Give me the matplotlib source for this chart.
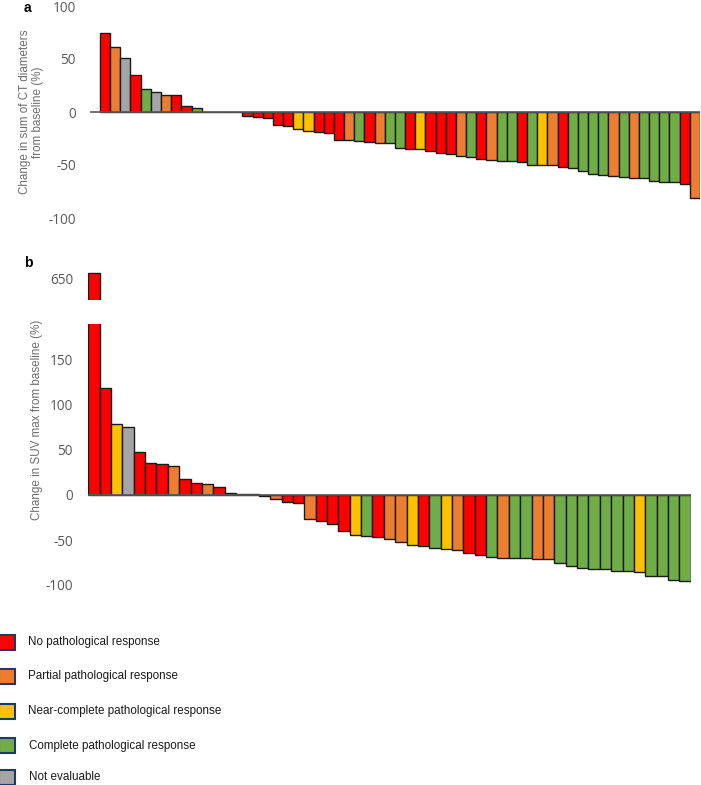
import matplotlib
matplotlib.use("Agg")
from matplotlib import pyplot as plt
from matplotlib.patches import Rectangle

plt.rcParams["axes.unicode_minus"] = False

# colours of the response classes
C = {"R": "#FF0000", "O": "#ED7D31", "Y": "#FFC000", "G": "#70AD47", "N": "#A5A5A5"}

legend_keys = ["R", "O", "Y", "G", "N"]
legend_labels = ["No pathological response",
                 "Partial pathological response",
                 "Near-complete pathological response",
                 "Complete pathological response",
                 "Not evaluable"]

# panel a: change in sum of CT diameters (%)
ct_values = [75, 61, 51, 35, 22, 18.5, 16, 15.7, 5.7, 3.8,
             0, 0, 0, 0,
             -3.5, -4.7, -6.0, -12.3, -13.2, -16.0, -18.0, -19.0, -20.0, -26.0,
             -26.8, -27.5, -28.0, -29.2, -29.6, -34.3, -35.0, -35.2, -36.5, -38.4,
             -40.0, -41.8, -42.8, -44.0, -45.3, -46.2, -46.5, -46.9, -50.0, -50.0,
             -50.0, -52.2, -53.2, -56.0, -58.8, -59.7, -60.0, -61.0, -62.3, -62.6,
             -64.8, -66.4, -66.5, -67.6, -81.0]
ct_resp = list("RONRGNORRG") + list("RRRR") + list(
    "RRRRRYYRRROGROGGRYRRROGROGGRGYORGGGGOGOGGGGRO")

# panel b: change in SUV max (%)
suv_values = [656, 119.3, 78.5, 75.9, 47.4, 35.6, 34.4, 32.6, 17.4, 13.3,
              12.6, 8.5, 2.4, 1.0, 0.8, -1.3, -4.2, -8.3, -8.9, -26.3,
              -29.0, -32.0, -40.0, -44.6, -46.0, -46.3, -49.3, -52.2, -56.0, -56.7,
              -59.3, -60.0, -61.5, -64.8, -66.3, -69.3, -69.5, -70.0, -70.2, -71.5,
              -71.6, -75.9, -79.3, -81.5, -81.9, -82.6, -84.0, -84.8, -85.9, -90.0,
              -90.2, -94.8, -95.2]
suv_resp = list("RRYNRRRORRORRRRRORRORRRYGROOYRGYORRGOGGOOGGGGGGGYGGGG")

W, H = 701, 785
fig = plt.figure(figsize=(W / 100, H / 100), dpi=100)

def px_axes(x0, y0, x1, y1):
    # axes from pixel box (top-left origin)
    return fig.add_axes([x0 / W, 1 - y1 / H, (x1 - x0) / W, (y1 - y0) / H])

tick_font = dict(family="Open Sans", size=9.8, color="#595959")
label_font = dict(family="Liberation Sans", size=8.4, color="#6d6d6d")

def style(ax, ticks, pad):
    for s in ax.spines.values():
        s.set_visible(False)
    ax.set_xticks([])
    ax.set_yticks(ticks)
    ax.tick_params(axis="y", length=0, pad=pad)
    for t in ax.get_yticklabels():
        t.set_fontfamily(tick_font["family"])
        t.set_fontsize(tick_font["size"])
        t.set_color(tick_font["color"])

# ---- panel a
ax_a = px_axes(89.8, 6, 700, 218)
x_a = range(len(ct_values))
ax_a.bar(x_a, ct_values, width=1, color=[C[r] for r in ct_resp],
         edgecolor="#1a1a1a", linewidth=1.0, zorder=2)
ax_a.axhline(0, color="#595959", lw=1.2, zorder=3)
ax_a.set_xlim(-1.5, len(ct_values) - 0.5)
ax_a.set_ylim(-100, 100)
style(ax_a, [-100, -50, 0, 50, 100], 10)
fig.text(31.5 / W, 1 - 112 / H, "Change in sum of CT diameters\nfrom baseline (%)",
         rotation=90, ha="center", va="center", linespacing=1.1, **label_font)
fig.text(24 / W, 1 - 0.5 / H, "a", fontweight="bold", fontsize=10, va="top",
         family="Liberation Sans")

# ---- panel b (broken axis)
x_b = range(len(suv_values))
cols_b = [C[r] for r in suv_resp]
ax_lo = px_axes(88.3, 324, 690.7, 585)
ax_hi = px_axes(88.3, 269.3, 690.7, 299.9)
for ax in (ax_lo, ax_hi):
    ax.bar(x_b, suv_values, width=1, color=cols_b, edgecolor="#1a1a1a",
           linewidth=1.0, zorder=2)
    ax.set_xlim(-0.5, len(suv_values) - 0.5)
ax_lo.axhline(0, color="#595959", lw=1.2, zorder=3)
ax_lo.set_ylim(-100, 190)
ax_hi.set_ylim(626, 660)
style(ax_lo, [-100, -50, 0, 50, 100, 150], 11)
style(ax_hi, [650], 11)
fig.text(37 / W, 1 - 420 / H, "Change in SUV max from baseline (%)",
         rotation=90, ha="center", va="center", **label_font)
fig.text(24 / W, 1 - 267 / H, "b", fontweight="bold", fontsize=10, va="baseline",
         family="Liberation Sans")

# ---- legend
row_y = [642.5, 676, 711, 745.5, 777.5]
text_x = [27.7, 27.7, 27.7, 29.3, 29.3]
for key, lab, yc, tx in zip(legend_keys, legend_labels, row_y, text_x):
    fig.patches.append(Rectangle(((-1) / W, 1 - (yc + 7.5) / H), 16 / W, 15 / H,
                                 transform=fig.transFigure, facecolor=C[key],
                                 edgecolor="#203864", linewidth=1.5))
    fig.text(tx / W, 1 - yc / H, lab, va="center", ha="left",
             family="Liberation Sans", size=8.4, color="#1a1a1a")

fig.savefig("out.png", dpi=100)
